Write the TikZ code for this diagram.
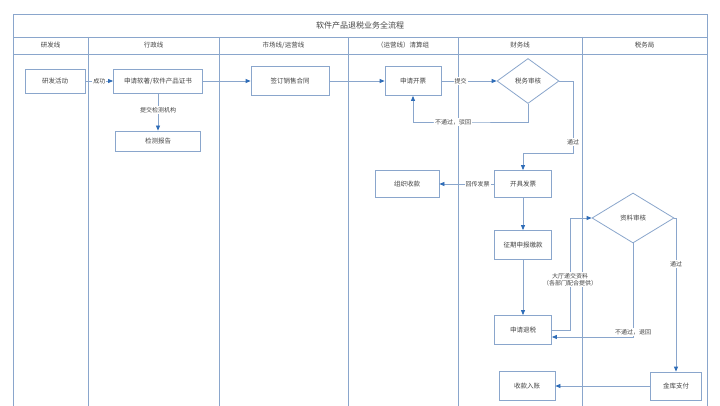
\documentclass[tikz,border=0pt]{standalone}
\usepackage{fontspec}
\setmainfont{Noto Sans CJK SC}
\usetikzlibrary{shapes.geometric,arrows.meta}
\definecolor{ln}{HTML}{8AA6CC}
\definecolor{ar}{HTML}{2F6DB8}
\definecolor{tx}{HTML}{444444}
\begin{document}
\begin{tikzpicture}[x=1pt,y=-1pt,
  box/.style={draw=ln,line width=0.8pt,fill=white,minimum width=#1,minimum height=26pt,inner sep=1pt,font=\fontsize{6.5}{7}\selectfont,text=tx},
  dia/.style 2 args={draw=ln,line width=0.8pt,diamond,fill=white,inner sep=0pt,minimum width=#1,minimum height=#2,font=\fontsize{6.5}{7}\selectfont,text=tx},
  lbl/.style={fill=white,inner sep=1pt,font=\fontsize{6}{7}\selectfont,text=tx},
  hd/.style={font=\fontsize{6.5}{7}\selectfont,text=tx},
  con/.style={draw=ln,line width=0.8pt,-{Triangle[length=5pt,width=4pt,fill=ar,color=ar]}}]
\useasboundingbox (0,0) rectangle (720,406);
\fill[white] (0,0) rectangle (720,406);
% frame
\draw[ln,line width=0.8pt] (13,406) -- (13,14) -- (707,14) -- (707,406);
\draw[ln,line width=0.8pt] (13,37) -- (707,37) (13,54) -- (707,54);
\foreach \x in {88,219,348,458,582} \draw[ln,line width=0.8pt] (\x,37) -- (\x,406);
\node[font=\fontsize{8}{9}\selectfont,text=tx] (title) at (360,25.5) {软件产品退税业务全流程};
\node[hd] (h1) at (50.5,45.5) {研发线};
\node[hd] (h2) at (153.5,45.5) {行政线};
\node[hd] (h3) at (283.5,45.5) {市场线/运营线};
\node[hd] (h4) at (403,45.5) {（运营线）清算组};
\node[hd] (h5) at (520,45.5) {财务线};
\node[hd] (h6) at (644.5,45.5) {税务局};
% nodes
\node[box=60pt,minimum height=24pt] (yf) at (55,81) {研发活动};
\node[box=89pt,minimum height=24pt] (sq) at (158,81) {申请软著/软件产品证书};
\node[box=85pt,minimum height=20pt] (jc) at (158,141) {检测报告};
\node[box=78pt,minimum height=29pt] (qd) at (290,81) {签订销售合同};
\node[box=56pt,minimum height=29pt] (kp) at (413,81) {申请开票};
\node[dia={62pt}{45pt}] (sw) at (528,81) {税务审核};
\node[box=57pt,minimum height=27pt] (kj) at (523,184) {开具发票};
\node[box=64pt,minimum height=27pt] (zz) at (407,184) {组织收款};
\node[box=57pt,minimum height=29pt] (zq) at (523,245) {征期申报缴款};
\node[box=57pt,minimum height=29pt] (ts) at (523,330) {申请退税};
\node[dia={82pt}{50pt}] (zl) at (633,218) {资料审核};
\node[box=51pt,minimum height=28pt] (jk) at (676,386) {金库支付};
\node[box=56pt,minimum height=29pt] (sk) at (527,386) {收款入账};
% connectors
\draw[con] (yf) -- node[lbl]{成功} (sq);
\draw[con] (sq) -- node[lbl,pos=0.45]{提交检测机构} (jc);
\draw[con] (sq) -- (qd);
\draw[con] (qd) -- (kp);
\draw[con] (kp) -- node[lbl,pos=0.35]{提交} (sw);
\draw[con] (sw.south) |- (453,122) node[lbl]{不通过，驳回} -| (kp.south);
\draw[con] (sw.east) -- (573,81) -- (573,153) node[lbl,pos=0.85]{通过} -| (kj.north);
\draw[con] (kj) -- node[lbl,pos=0.3]{回传发票} (zz);
\draw[con] (kj) -- (zq);
\draw[con] (zq) -- (ts);
\draw[con] (ts.east) -- (570,330) -- (570,218) node[lbl,pos=0.45,align=center]{大厅递交资料\\（各部门配合提供）} -- (zl.west);
\draw[con] (zl.south) -- (633,337) node[lbl,pos=0.95,anchor=center]{不通过，退回} -- (ts.east |- 0,337);
\draw[con] (zl.east) -| node[lbl,pos=0.65]{通过} (jk.north);
\draw[con] (jk) -- (sk);
\end{tikzpicture}
\end{document}
